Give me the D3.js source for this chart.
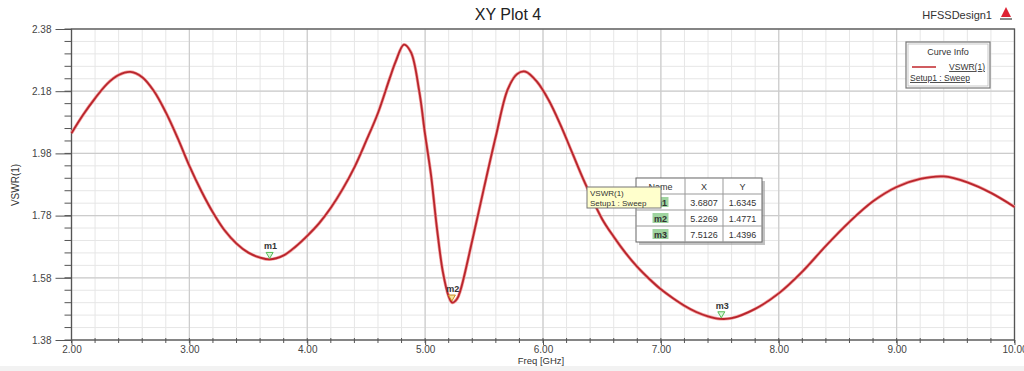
<!DOCTYPE html>
<html><head><meta charset="utf-8">
<script src="https://cdn.jsdelivr.net/npm/d3@7"></script>
<style>body{margin:0;background:#fff}svg{display:block;font-family:"Liberation Sans",Arial,sans-serif}</style>
</head><body><svg id="c" width="1024" height="371"></svg>
<script>
const freq = [2.0,2.1,2.2,2.3,2.4,2.5,2.6,2.7,2.8,2.9,3.0,3.1,3.2,3.3,3.4,3.5,3.6,3.68,3.8,3.9,4.0,4.1,4.2,4.3,4.4,4.5,4.6,4.7,4.75,4.82,4.88,4.95,5.0,5.05,5.1,5.15,5.2,5.23,5.27,5.3,5.4,5.5,5.6,5.7,5.78,5.85,5.95,6.05,6.15,6.25,6.35,6.5,6.6,6.7,6.8,6.9,7.0,7.1,7.2,7.3,7.4,7.5,7.6,7.8,8.0,8.2,8.4,8.6,8.8,9.0,9.2,9.4,9.6,9.8,10.0];
const vswr = [2.045,2.105,2.157,2.203,2.232,2.242,2.225,2.18,2.112,2.03,1.94,1.86,1.79,1.732,1.69,1.661,1.645,1.639,1.652,1.68,1.715,1.755,1.805,1.865,1.935,2.02,2.11,2.222,2.275,2.33,2.305,2.18,2.04,1.91,1.74,1.60,1.52,1.50,1.512,1.54,1.70,1.87,2.035,2.185,2.235,2.243,2.21,2.15,2.07,1.98,1.89,1.77,1.712,1.66,1.615,1.577,1.543,1.515,1.49,1.47,1.456,1.448,1.45,1.48,1.53,1.6,1.683,1.76,1.826,1.872,1.898,1.906,1.887,1.853,1.808];
const xTicks = [2,3,4,5,6,7,8,9,10];
const yTicks = [1.38,1.58,1.78,1.98,2.18,2.38];
const markerNames = ["m1","m2","m3"];
const markerX = [3.6807,5.2269,7.5126];
const markerY = [1.6345,1.4771,1.4396];
const tableHeader = ["Name","X","Y"];

const svg = d3.select("#c");
const L=71.5,R=1014.5,T=29,B=340;
const x = d3.scaleLinear().domain([2,10]).range([L,R]);
const y = d3.scaleLinear().domain([1.38,2.38]).range([B,T]);

svg.append("rect").attr("x",0).attr("y",366).attr("width",1024).attr("height",5).attr("fill","#f2f2f2");

// grid
const g = svg.append("g");
const xMinor = d3.range(2,10.0001,0.2), yMinor = d3.range(1.38,2.3801,0.04);
g.selectAll(".xm").data(xMinor).join("line").attr("x1",d=>x(d)).attr("x2",d=>x(d)).attr("y1",T).attr("y2",B).attr("stroke","#e6e6e6").attr("stroke-width",1);
g.selectAll(".ym").data(yMinor).join("line").attr("y1",d=>y(d)).attr("y2",d=>y(d)).attr("x1",L).attr("x2",R).attr("stroke","#e6e6e6").attr("stroke-width",1);
g.selectAll(".xM").data(xTicks).join("line").attr("x1",d=>x(d)).attr("x2",d=>x(d)).attr("y1",T).attr("y2",B).attr("stroke","#cccccc").attr("stroke-width",1.2);
g.selectAll(".yM").data(yTicks).join("line").attr("y1",d=>y(d)).attr("y2",d=>y(d)).attr("x1",L).attr("x2",R).attr("stroke","#cccccc").attr("stroke-width",1.2);

// frame
svg.append("rect").attr("x",L).attr("y",T).attr("width",R-L).attr("height",B-T).attr("fill","none").attr("stroke","#555").attr("stroke-width",1.3);

// axes
const xAxis = d3.axisBottom(x).tickValues(xTicks).tickFormat(d3.format(".2f")).tickSize(5).tickPadding(1);
const xa = svg.append("g").attr("transform",`translate(0,${B})`).call(xAxis);
const yAxis = d3.axisLeft(y).tickValues(yTicks).tickFormat(d3.format(".2f")).tickSize(16).tickPadding(4);
const ya = svg.append("g").attr("transform",`translate(${L},0)`).call(yAxis);
[xa,ya].forEach(a=>{a.select(".domain").remove();a.selectAll("line").attr("stroke","#555");a.selectAll("text").attr("fill","#444").attr("font-size",10).attr("font-family","Liberation Sans, Arial, sans-serif");});
svg.append("g").selectAll("line").data(xMinor).join("line").attr("x1",d=>x(d)).attr("x2",d=>x(d)).attr("y1",B-2).attr("y2",B+3).attr("stroke","#555");
svg.append("g").selectAll("line").data(yMinor).join("line").attr("y1",d=>y(d)).attr("y2",d=>y(d)).attr("x1",L-7).attr("x2",L).attr("stroke","#555");

// titles
svg.append("text").attr("x",508).attr("y",20).attr("text-anchor","middle").attr("font-size",16).attr("fill","#222").text("XY Plot 4");
svg.append("text").attr("x",992).attr("y",19).attr("text-anchor","end").attr("font-size",11).attr("fill","#333").text("HFSSDesign1");
const lg = svg.append("g").attr("transform","translate(1006,14)");
lg.append("path").attr("d","M0,-7 L5,3 L-5,3 Z").attr("fill","#d23");
lg.append("rect").attr("x",-6).attr("y",4).attr("width",12).attr("height",2).attr("fill","#888");
svg.append("text").attr("x",541).attr("y",364).attr("text-anchor","middle").attr("font-size",9.5).attr("fill","#333").text("Freq [GHz]");
svg.append("text").attr("transform","translate(19,185) rotate(-90)").attr("text-anchor","middle").attr("font-size",10).attr("fill","#333").text("VSWR(1)");

// curve
const pts = freq.map((f,i)=>[f,vswr[i]]);
const line = d3.line().x(d=>x(d[0])).y(d=>y(d[1])).curve(d3.curveCatmullRom.alpha(0.5));
svg.append("path").attr("d",line(pts)).attr("fill","none").attr("stroke","#f3a0a0").attr("stroke-width",3.2);
svg.append("path").attr("d",line(pts)).attr("fill","none").attr("stroke","#b8252c").attr("stroke-width",1.8);

// markers
const interp = f=>{const i=d3.bisectLeft(freq,f);const t=(f-freq[i-1])/(freq[i]-freq[i-1]);return vswr[i-1]+t*(vswr[i]-vswr[i-1]);};
const mcol = ["#55bb55","#cc8822","#55bb55"], mfill=["#d9f5d9","#f5e6a0","#d9f5d9"];
markerNames.forEach((n,i)=>{
  const px=x(markerX[i]), py=y(interp(markerX[i]))-1;
  svg.append("path").attr("d",`M${px},${py} L${px-3.5},${py-6} L${px+3.5},${py-6} Z`).attr("fill",mfill[i]).attr("stroke",mcol[i]).attr("stroke-width",1);
  svg.append("text").attr("x",px+1).attr("y",py-9).attr("text-anchor","middle").attr("font-size",9).attr("font-weight","bold").attr("fill","#333").text(n);
});

// marker table
const tx=636,ty=178,cw=[49,38,39],rh=16;
const tg=svg.append("g");
tg.append("rect").attr("x",tx+3).attr("y",ty+3).attr("width",d3.sum(cw)).attr("height",rh*4).attr("fill","#999").attr("opacity",0.6);
tg.append("rect").attr("x",tx).attr("y",ty).attr("width",d3.sum(cw)).attr("height",rh*4).attr("fill","#fff").attr("stroke","#666");
const rows=[tableHeader].concat(markerNames.map((n,i)=>[n,markerX[i].toFixed(4),markerY[i].toFixed(4)]));
rows.forEach((r,ri)=>{
  let cx=tx;
  r.forEach((c,ci)=>{
    if(ri>0&&ci===0){tg.append("rect").attr("x",cx+cw[0]/2-8).attr("y",ty+ri*rh+3).attr("width",16).attr("height",10).attr("fill","#9fd49f");}
    tg.append("text").attr("x",cx+cw[ci]/2).attr("y",ty+ri*rh+11.5).attr("text-anchor","middle").attr("font-size",9).attr("font-weight",(ri>0&&ci===0)?"bold":"normal").attr("fill","#333").text(c);
    cx+=cw[ci];
  });
  if(ri>0) tg.append("line").attr("x1",tx).attr("x2",tx+d3.sum(cw)).attr("y1",ty+ri*rh).attr("y2",ty+ri*rh).attr("stroke","#999");
});
[cw[0],cw[0]+cw[1]].forEach(o=>tg.append("line").attr("x1",tx+o).attr("x2",tx+o).attr("y1",ty).attr("y2",ty+rh*4).attr("stroke","#999"));

// tooltip
const tt=svg.append("g");
tt.append("rect").attr("x",587).attr("y",187).attr("width",74).attr("height",21).attr("fill","#ffffcc").attr("stroke","#777");
tt.append("text").attr("x",590).attr("y",196).attr("font-size",8).attr("fill","#333").text("VSWR(1)");
tt.append("text").attr("x",590).attr("y",205.5).attr("font-size",8).attr("fill","#333").text("Setup1 : Sweep");

// legend
const lgd=svg.append("g");
lgd.append("rect").attr("x",906).attr("y",42).attr("width",84).attr("height",46).attr("fill","#fff").attr("stroke","#777").attr("stroke-width",1.2);
lgd.append("rect").attr("x",908).attr("y",44).attr("width",80).attr("height",42).attr("fill","none").attr("stroke","#bbb").attr("stroke-width",0.8);
lgd.append("text").attr("x",948).attr("y",55).attr("text-anchor","middle").attr("font-size",9).attr("fill","#333").text("Curve Info");
lgd.append("line").attr("x1",912).attr("x2",936).attr("y1",67).attr("y2",67).attr("stroke","#c0262b").attr("stroke-width",1.5);
lgd.append("text").attr("x",985).attr("y",70).attr("text-anchor","end").attr("font-size",8.5).attr("fill","#333").attr("text-decoration","underline").text("VSWR(1)");
lgd.append("text").attr("x",910).attr("y",81).attr("font-size",8.5).attr("fill","#333").attr("text-decoration","underline").text("Setup1 : Sweep");
</script></body></html>
